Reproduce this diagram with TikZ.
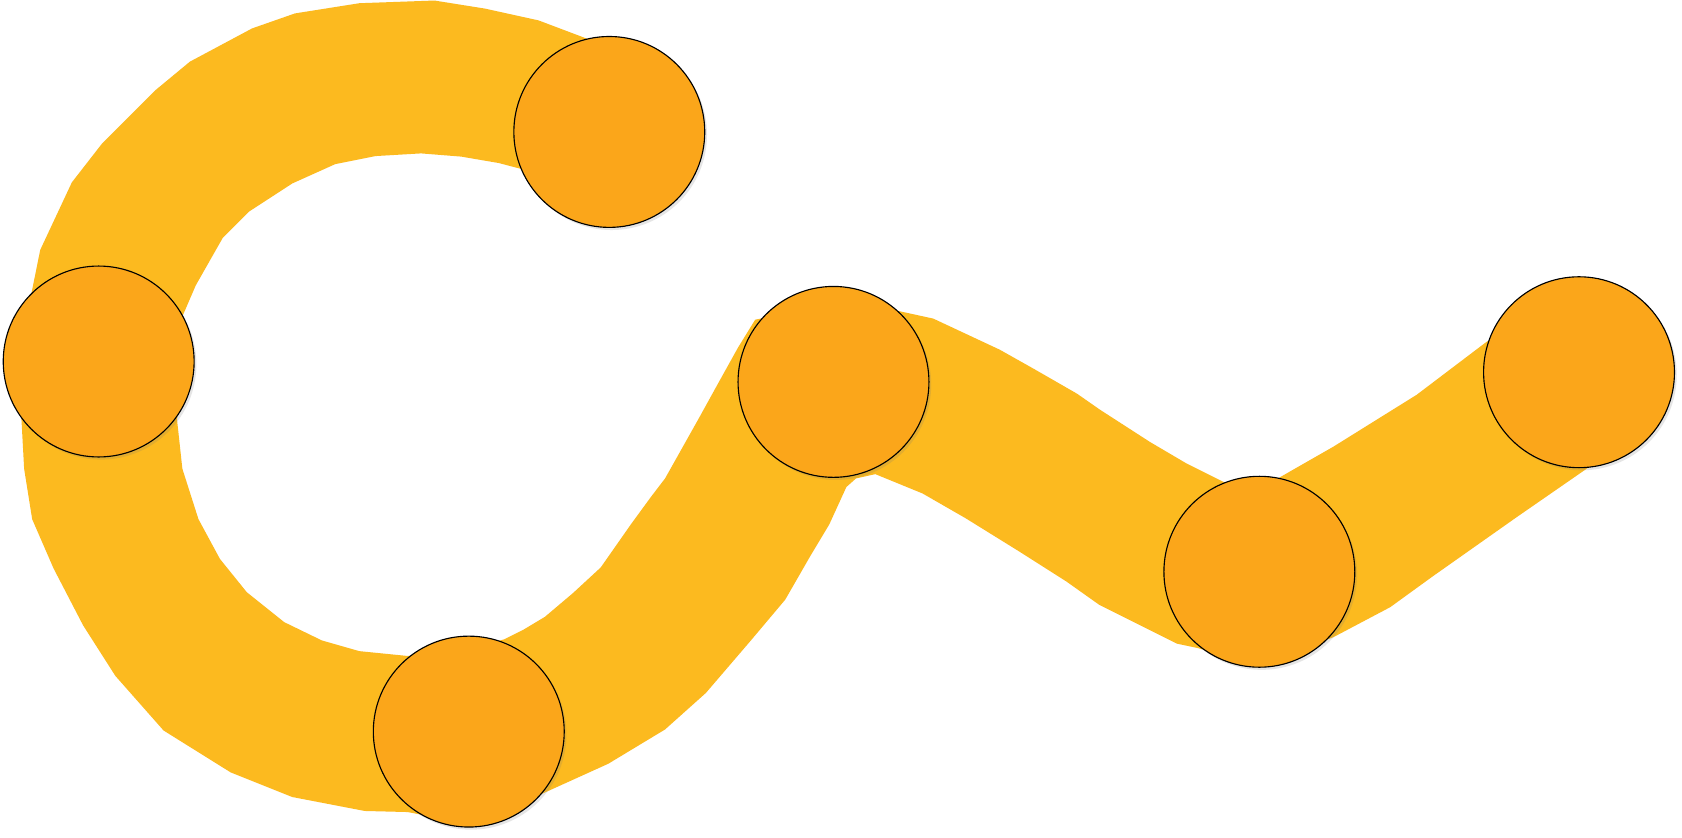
\documentclass[tikz,border=0pt]{standalone}
\usetikzlibrary{shadows}
\definecolor{bandyellow}{RGB}{252,186,31}
\definecolor{dotorange}{RGB}{251,166,26}
\begin{document}
\begin{tikzpicture}[x=0.02cm,y=-0.02cm,
  dot/.style={circle,draw=black,line width=0.6pt,fill=dotorange,inner sep=0pt,minimum size=3.56cm,
    drop shadow={shadow xshift=1.2pt,shadow yshift=-1.4pt,opacity=0.18,fill=black!55}},
  band/.style={fill=bandyellow,draw=none}]
\useasboundingbox (0,0) rectangle (1568,781);
\fill[white] (0,0) rectangle (1568,781);
% band
\path[band] (578,55) -- (547,36) -- (502,19) -- (452,8) -- (405,0.5) -- (335,3) -- (275,12.5) -- (235,26.5)
 -- (177,57.5) -- (145,84) -- (95,134) -- (67,170) -- (37.5,233) -- (29,275) -- (18,330)
 -- (20,391) -- (22.5,437) -- (30,484) -- (50,530) -- (77.5,583) -- (107.5,630) -- (152.5,681)
 -- (215,720) -- (272.5,743) -- (340,756) -- (380,757) -- (437,768) -- (503,741) -- (567,712)
 -- (620,680) -- (658,646) -- (700,597) -- (732,559) -- (755,519) -- (773,489) -- (789,454) -- (798,446)
 -- (816,442) -- (860,460) -- (900,483) -- (950,514) -- (994,542) -- (1025,564) -- (1063,583)
 -- (1097,600) -- (1116,604) -- (1174,620) -- (1243,594) -- (1296,566) -- (1336,537) -- (1414,482)
 -- (1479,437) -- (1500,420) -- (1440,290) -- (1386,318.5) -- (1320.7,368) -- (1243,416.4) -- (1193,445)
 -- (1170,460) -- (1140,449) -- (1106,432) -- (1072,412) -- (1025.5,382) -- (1004,367) -- (964,344)
 -- (932,326) -- (870,297) -- (838,290) -- (770,285) -- (704,298) -- (688,324) -- (668,360) -- (652,389)
 -- (620,446) -- (607,463) -- (588,489) -- (560,529) -- (534,553) -- (508,575) -- (488,587) -- (470,596)
 -- (437,605) -- (380,611.5) -- (335,607) -- (300,597) -- (265,580) -- (230,552) -- (205,521)
 -- (185,484) -- (170,437) -- (165,391) -- (172,340) -- (170,295) -- (182.5,266) -- (207.5,222)
 -- (232.5,197) -- (272.5,171) -- (312.5,153) -- (350,145.5) -- (392.5,143) -- (430,146) -- (465,152)
 -- (484,157) -- (515,165) -- cycle;
% dots
\node[dot] (c1) at (568,123) {};
\node[dot] (c2) at (92,337) {};
\node[dot] (c3) at (437,682) {};
\node[dot] (c4) at (777,356) {};
\node[dot] (c5) at (1174,533) {};
\node[dot] (c6) at (1472,347) {};
\end{tikzpicture}
\end{document}
